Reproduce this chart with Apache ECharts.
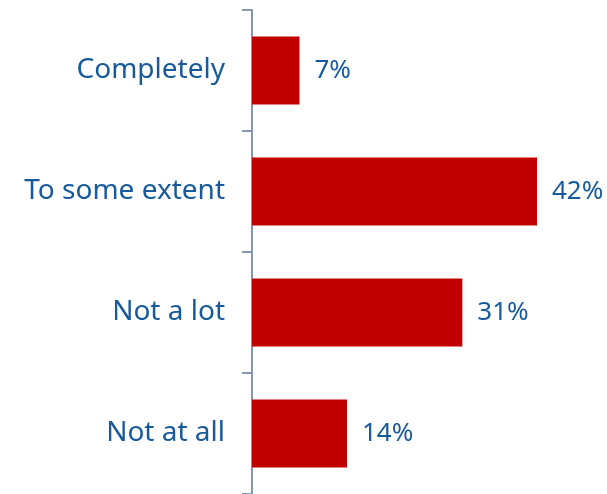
<!DOCTYPE html>
<html>
<head>
<meta charset="utf-8">
<script src="https://cdn.jsdelivr.net/npm/echarts@6/dist/echarts.min.js"></script>
<style>html,body{margin:0;padding:0;background:#fff;}#c{width:607px;height:494px;}</style>
</head>
<body>
<div id="c"></div>
<script>
var categories = ["Completely", "To some extent", "Not a lot", "Not at all"];
var values = [7, 42, 31, 14];

var chart = echarts.init(document.getElementById('c'));
chart.setOption({
  animation: false,
  grid: { left: 252, right: 70, top: 10, bottom: -4 },
  xAxis: { type: 'value', min: 0, max: 42, show: false },
  yAxis: {
    type: 'category',
    inverse: true,
    data: categories,
    axisLine: { lineStyle: { color: '#8497B0', width: 2 } },
    axisTick: { show: true, length: 10, lineStyle: { color: '#8497B0', width: 2 } },
    axisLabel: { color: '#175A9C', fontSize: 28, fontFamily: 'Noto Sans', margin: 27 }
  },
  series: [{
    type: 'bar',
    data: values,
    barWidth: 68,
    itemStyle: { color: '#C00000' },
    label: { show: true, position: 'right', distance: 15, formatter: '{c}%', color: '#175A9C', fontSize: 26, fontFamily: 'Noto Sans', letterSpacing: -1 }
  }]
});
</script>
</body>
</html>
